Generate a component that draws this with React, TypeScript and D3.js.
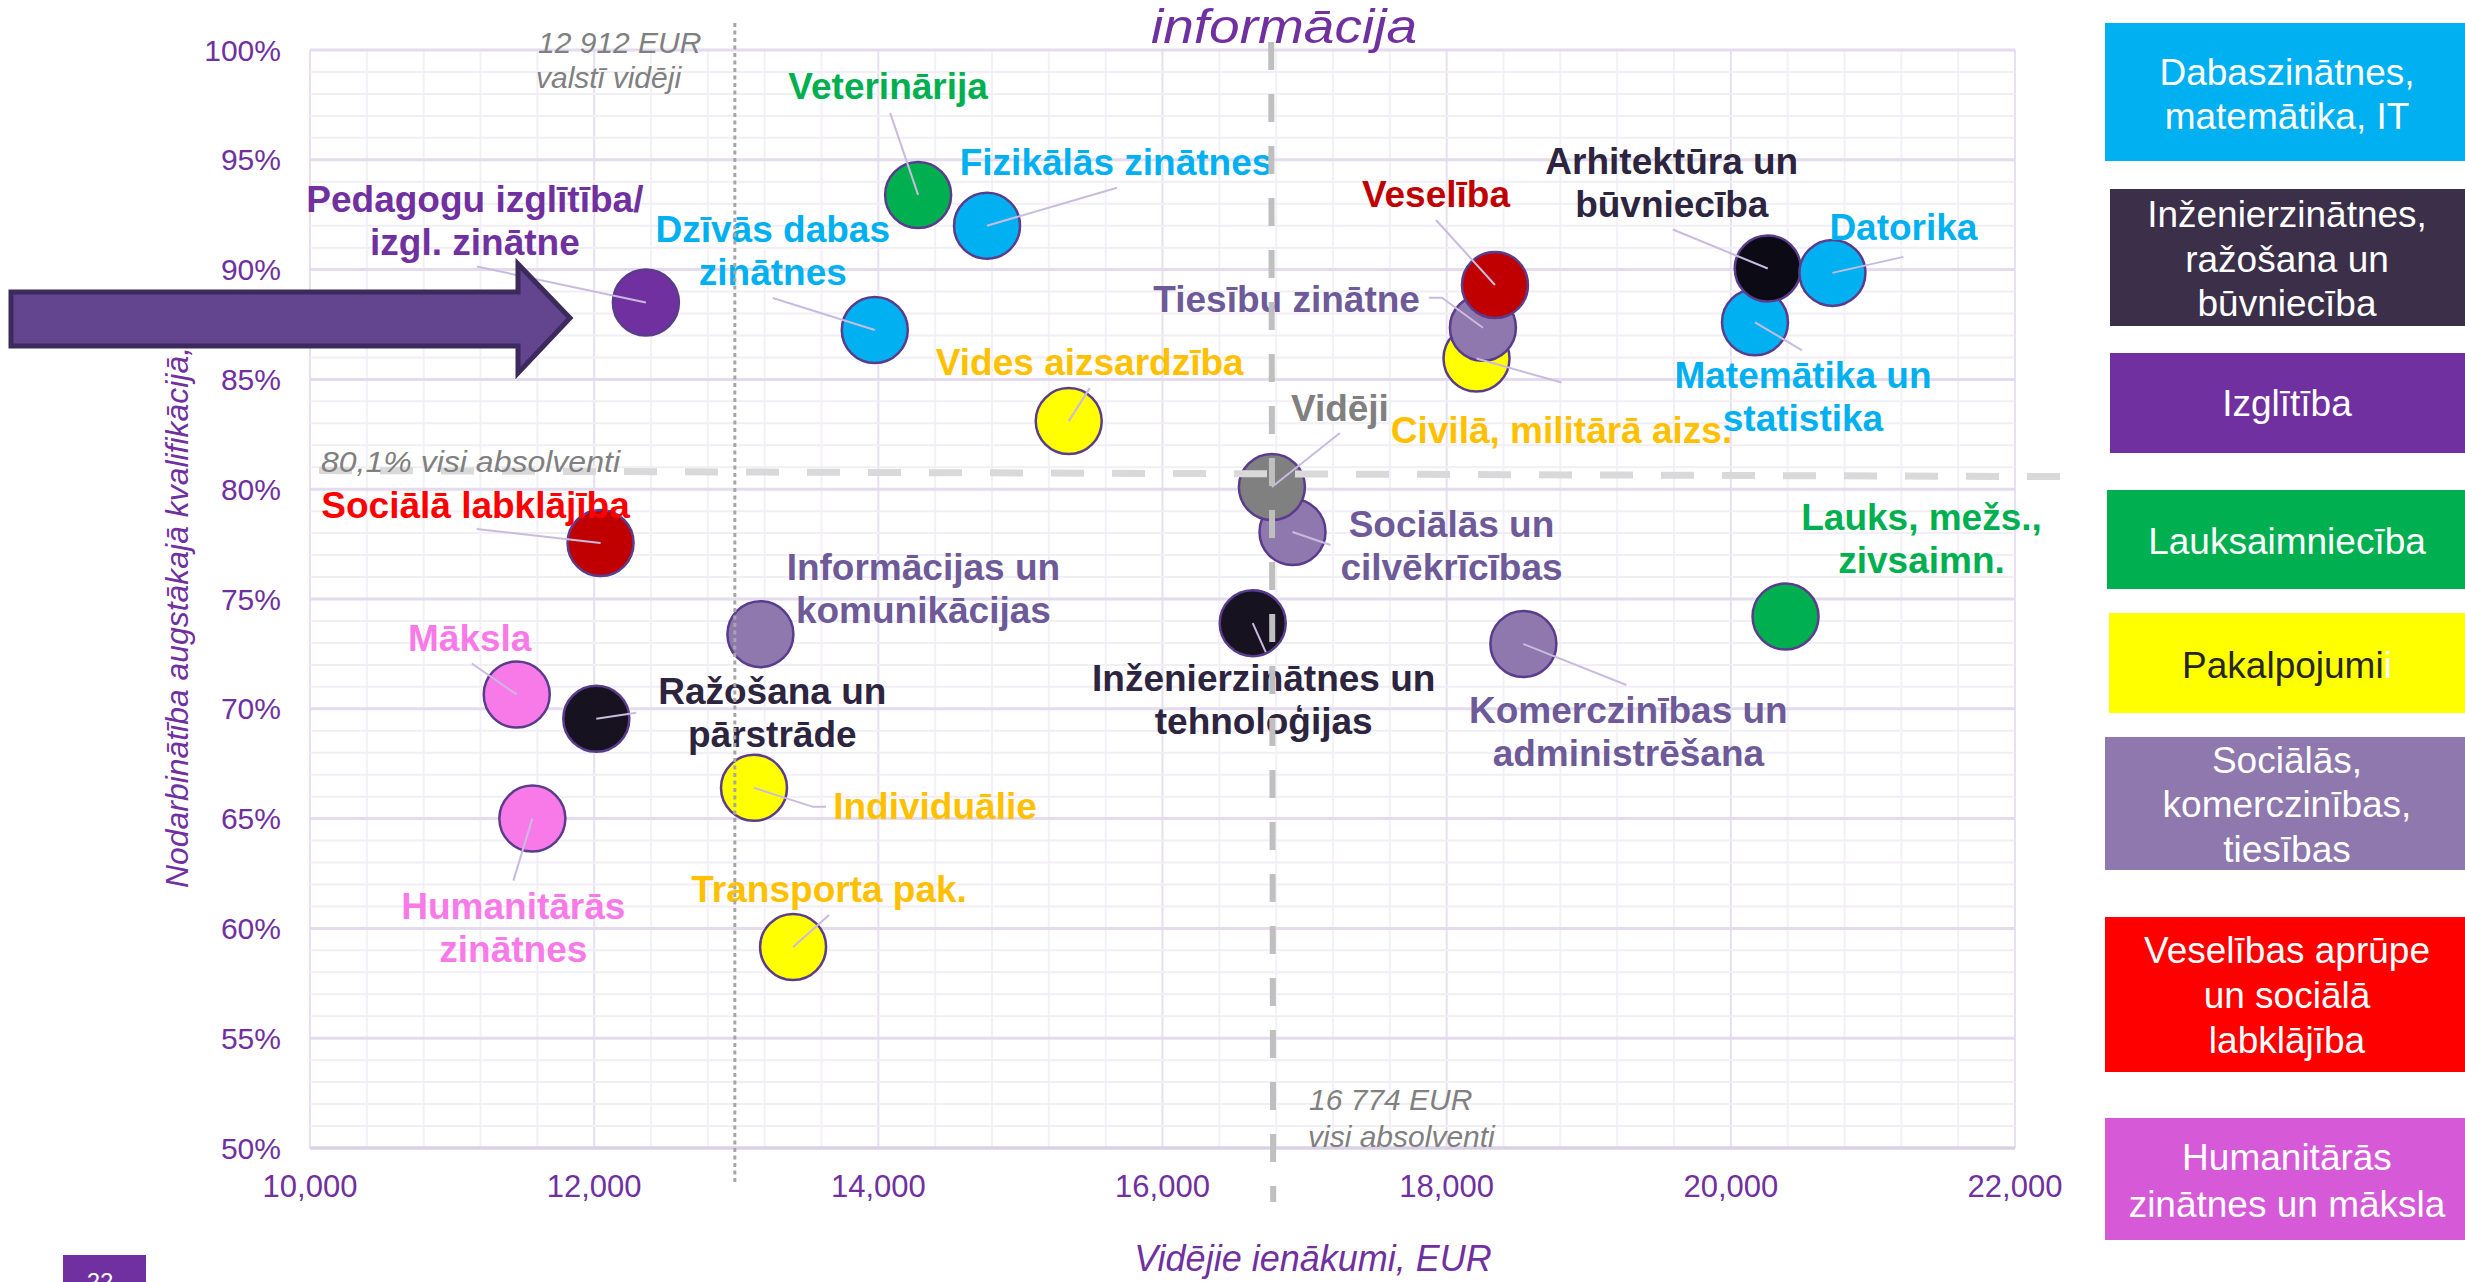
import React from 'react';
import * as d3 from 'd3';

// study fields: label lines, average income (EUR), employment at highest qualification (%)
const fieldLabels: string[][] = [
  ['Pedagogu izglītība/', 'izgl. zinātne'],
  ['Veterinārija'],
  ['Fizikālās zinātnes'],
  ['Dzīvās dabas', 'zinātnes'],
  ['Vides aizsardzība'],
  ['Civilā, militārā aizs.'],
  ['Tiesību zinātne'],
  ['Veselība'],
  ['Matemātika un', 'statistika'],
  ['Arhitektūra un', 'būvniecība'],
  ['Datorika'],
  ['Sociālās un', 'cilvēkrīcības'],
  ['Vidēji'],
  ['Sociālā labklājība'],
  ['Informācijas un', 'komunikācijas'],
  ['Māksla'],
  ['Ražošana un', 'pārstrāde'],
  ['Individuālie'],
  ['Humanitārās', 'zinātnes'],
  ['Transporta pak.'],
  ['Inženierzinātnes un', 'tehnoloģijas'],
  ['Komerczinības un', 'administrēšana'],
  ['Lauks, mežs.,', 'zivsaimn.'],
];
const income = [
  12364, 14280, 14765, 13975, 15340, 18210, 18255, 18340, 20170, 20260, 20715, 16915,
  16770, 12045, 13170, 11455, 12015, 13125, 11565, 13400, 16635, 18540, 20385,
];
const employed = [
  88.5, 93.4, 92.0, 87.25, 83.1, 85.95, 87.35, 89.3, 87.6, 90.05, 89.85, 78.05,
  80.1, 77.55, 73.4, 70.65, 69.55, 66.4, 65.0, 59.15, 73.9, 72.95, 74.2,
];
const fieldGroup = [
  'edu', 'agr', 'nat', 'nat', 'srv', 'srv', 'soc', 'hlt', 'nat', 'eng', 'nat', 'soc',
  'avg', 'wel', 'soc', 'hum', 'eng2', 'srv', 'hum', 'srv', 'eng2', 'soc', 'agr',
];

// reference lines
const allGradIncome = 16765;
const nationalIncomeLine = 12990;
const allGradEmploymentLeft = 80.85;
const allGradEmploymentRight = 80.57;

// axes
const xTicks = [10000, 12000, 14000, 16000, 18000, 20000, 22000];
const yTicks = [50, 55, 60, 65, 70, 75, 80, 85, 90, 95, 100];

// legend
const legendLabels: string[][] = [
  ['Dabaszinātnes,', 'matemātika, IT'],
  ['Inženierzinātnes,', 'ražošana un', 'būvniecība'],
  ['Izglītība'],
  ['Lauksaimniecība'],
  ['Pakalpojumi'],
  ['Sociālās,', 'komerczinības,', 'tiesības'],
  ['Veselības aprūpe', 'un sociālā', 'labklājība'],
  ['Humanitārās', 'zinātnes un māksla'],
];

const circleFill: Record<string, string> = {
  edu: '#7030a0', agr: '#00b050', nat: '#00b0f0', srv: '#ffff00', soc: '#8e78ae',
  hlt: '#c00000', wel: '#c00000', eng: '#0c0a14', eng2: '#17121f', avg: '#808080', hum: '#f87ae8',
};
const labelColor: Record<string, string> = {
  edu: '#7030a0', agr: '#00b050', nat: '#00b0f0', srv: '#ffc000', soc: '#6e5a98',
  hlt: '#c00000', wel: '#ff0000', eng: '#2d2440', eng2: '#2d2440', avg: '#808080', hum: '#f87ae8',
};
const legendStyle = [
  { fill: '#00b0f0', x: 2105, top: 23, bottom: 161, text: '#fff', base: [85, 129] },
  { fill: '#3b2f49', x: 2110, top: 189, bottom: 326, text: '#fff', base: [227, 272, 316] },
  { fill: '#7030a0', x: 2110, top: 353, bottom: 453, text: '#fff', base: [416] },
  { fill: '#00b050', x: 2107, top: 490, bottom: 589, text: '#fff', base: [554] },
  { fill: '#ffff00', x: 2109, top: 613, bottom: 713, text: '#262626', base: [678] },
  { fill: '#8e78ae', x: 2105, top: 737, bottom: 870, text: '#fff', base: [773, 817, 862] },
  { fill: '#ff0000', x: 2105, top: 917, bottom: 1072, text: '#fff', base: [963, 1008, 1053] },
  { fill: '#d65ad8', x: 2105, top: 1118, bottom: 1240, text: '#fff', base: [1170, 1217] },
];

// label offsets from bubble centre: [dx, dy, anchor, leader points]
type Layout = [number, number, string, number[][]];
const labelLayout: Layout[] = [
  [-171, -91, 'middle', [[-169, -36]]],
  [-30, -96, 'middle', [[-28, -82]]],
  [129, -51, 'middle', [[130, -38]]],
  [-102, -88, 'middle', [[-102, -32]]],
  [21, -46, 'middle', [[21, -33]]],
  [85, 84, 'middle', [[85, 24]]],
  [-63, -16, 'end', [[-41, -30], [-54, -30]]],
  [-59, -78, 'middle', [[-59, -65]]],
  [48, 66, 'middle', [[47, 28]]],
  [-96, -95, 'middle', [[-95, -39]]],
  [71, -33, 'middle', [[71, -16]]],
  [159, 5, 'middle', [[38, 13]]],
  [68, -66, 'middle', [[68, -54]]],
  [-125, -25, 'middle', [[-124, -14]]],
  [163, -54, 'middle', []],
  [-47, -44, 'middle', [[-45, -31]]],
  [176, -15, 'middle', [[40, -6]]],
  [181, 31, 'middle', [[59, 19], [72, 19]]],
  [-19, 100, 'middle', [[-19, 62]]],
  [36, -45, 'middle', [[36, -32]]],
  [11, 68, 'middle', [[13, 29]]],
  [105, 79, 'middle', [[103, 41]]],
  [136, -87, 'middle', []],
];

const FONT = '"Liberation Sans", Arial, sans-serif';
const PURPLE = '#7030a0';

export default function App() {
  const W = 2465;
  const H = 1282;
  const x = d3.scaleLinear().domain([10000, 22000]).range([310, 2015]);
  const y = d3.scaleLinear().domain([50, 100]).range([1148, 50]);

  const xMinor = d3.range(10000, 22001, 400);
  const yMinor = d3.range(50, 100.5, 1);
  const line = d3.line();

  return (
    <svg width={W} height={H} style={{ position: 'absolute', left: 0, top: 0, background: '#fff' }} fontFamily={FONT}>
      {/* grid */}
      <g>
        {xMinor.map((v) => (
          <line key={'xm' + v} x1={x(v)} x2={x(v)} y1={y(50)} y2={y(100)}
            stroke={v % 2000 === 0 ? '#e6e0ef' : '#f3f0f7'} strokeWidth={2} />
        ))}
        {yMinor.map((v) => (
          <line key={'ym' + v} x1={x(10000)} x2={x(22000)} y1={y(v)} y2={y(v)}
            stroke={v % 5 === 0 ? '#e4dcee' : '#f1eef5'} strokeWidth={v % 5 === 0 ? 3 : 2} />
        ))}
        <line x1={x(10000)} x2={x(22000)} y1={y(50)} y2={y(50)} stroke="#d9d0e6" strokeWidth={3} />
      </g>

      {/* axes labels */}
      {yTicks.map((v) => (
        <text key={'yt' + v} x={281} y={y(v)} dy="0.35em" textAnchor="end" fontSize={30} fill={PURPLE}>
          {v}%
        </text>
      ))}
      {xTicks.map((v) => (
        <text key={'xt' + v} x={x(v)} y={1197} textAnchor="middle" fontSize={31} fill={PURPLE}>
          {d3.format(',')(v)}
        </text>
      ))}
      <text x={1313} y={1271} textAnchor="middle" fontSize={36} fontStyle="italic" fill={PURPLE}>
        Vidējie ienākumi, EUR
      </text>
      <text transform="translate(188,888) rotate(-90)" fontSize={31} fontStyle="italic" fill={PURPLE}
        textLength={541} lengthAdjust="spacingAndGlyphs">
        Nodarbinātība augstākajā kvalifikācijā,
      </text>
      <text x={1284} y={43} textAnchor="middle" fontSize={48} fontStyle="italic" fill={PURPLE}
        textLength={266} lengthAdjust="spacingAndGlyphs">
        informācija
      </text>

      {/* bubbles */}
      {income.map((v, i) => (
        <circle key={'c' + i} cx={x(v)} cy={y(employed[i])} r={33}
          fill={circleFill[fieldGroup[i]]} stroke="#5a3c8c" strokeWidth={2.5} />
      ))}

      {/* leader lines */}
      {income.map((v, i) => {
        const cx = x(v);
        const cy = y(employed[i]);
        const pts = labelLayout[i][3];
        if (!pts.length) return null;
        const path = line([[cx, cy], ...pts.map((p) => [cx + p[0], cy + p[1]] as [number, number])]);
        return <path key={'l' + i} d={path || ''} fill="none" stroke="#c9bbe0" strokeWidth={2} />;
      })}

      {/* labels */}
      {income.map((v, i) => {
        const [dx, dy, anchor] = labelLayout[i];
        const lx = x(v) + dx;
        const ly = y(employed[i]) + dy;
        return (
          <text key={'t' + i} x={lx} y={ly} textAnchor={anchor} fontSize={37} fontWeight="bold"
            fill={labelColor[fieldGroup[i]]}>
            {fieldLabels[i].map((s, k) => (
              <tspan key={k} x={lx} dy={k === 0 ? 0 : 43}>{s}</tspan>
            ))}
          </text>
        );
      })}

      {/* reference lines */}
      <line x1={x(nationalIncomeLine)} x2={x(nationalIncomeLine)} y1={23} y2={1183}
        stroke="#a6a6a6" strokeWidth={3} strokeDasharray="4 3.5" />
      <line x1={319} x2={2085} y1={y(allGradEmploymentLeft)} y2={y(allGradEmploymentRight)}
        stroke="#d9d9d9" strokeWidth={7} strokeDasharray="33 28" />
      <line x1={x(allGradIncome)} x2={x(allGradIncome) + 2} y1={42} y2={1202}
        stroke="#bfbfbf" strokeWidth={6} strokeDasharray="28 24" />

      <g fontSize={30} fontStyle="italic" fill="#808080">
        <text x={538} y={53}>12 912 EUR</text>
        <text x={536} y={88}>valstī vidēji</text>
        <text x={321} y={472} textLength={299} lengthAdjust="spacingAndGlyphs">80,1% visi absolventi</text>
        <text x={1309} y={1110}>16 774 EUR</text>
        <text x={1308} y={1147}>visi absolventi</text>
      </g>

      {/* arrow */}
      <path d="M11,292 L518,292 L518,264 L570,318 L518,373 L518,346 L11,346 Z"
        fill="#62458e" stroke="#3c2a5c" strokeWidth={5} strokeLinejoin="miter" />

      {/* legend */}
      {legendStyle.map((s, i) => (
        <g key={'lg' + i}>
          <rect x={s.x} y={s.top} width={W - s.x} height={s.bottom - s.top} fill={s.fill} />
          <text textAnchor="middle" fontSize={37} fill={s.text}>
            {legendLabels[i].map((t, k) => (
              <tspan key={k} x={2287} y={s.base[k]}>
                {t}
                {i === 4 ? <tspan fill="#ffffff">i</tspan> : null}
              </tspan>
            ))}
          </text>
        </g>
      ))}

      {/* page number */}
      <rect x={63} y={1255} width={83} height={40} fill={PURPLE} />
      <text x={100} y={1290} textAnchor="middle" fontSize={24} fill="#fff">22</text>
    </svg>
  );
}
